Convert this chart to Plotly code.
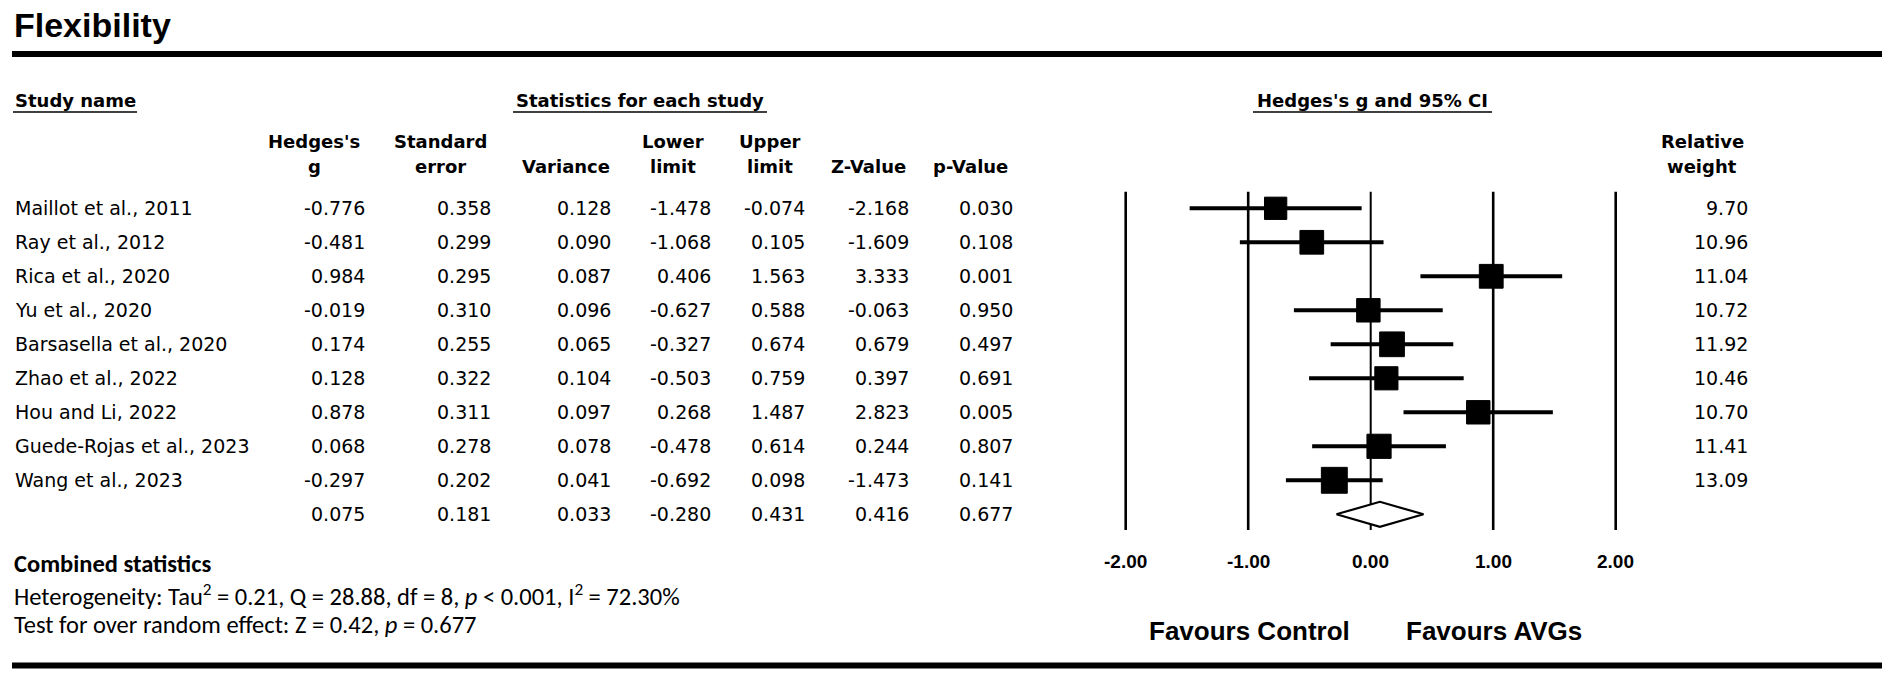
import plotly.graph_objects as go

# ---------------- data ----------------
studies = ["Maillot et al., 2011", "Ray et al., 2012", "Rica et al., 2020", "Yu et al., 2020",
           "Barsasella et al., 2020", "Zhao et al., 2022", "Hou and Li, 2022",
           "Guede-Rojas et al., 2023", "Wang et al., 2023"]
hedges_g = [-0.776, -0.481, 0.984, -0.019, 0.174, 0.128, 0.878, 0.068, -0.297]
std_err = [0.358, 0.299, 0.295, 0.310, 0.255, 0.322, 0.311, 0.278, 0.202]
variance = [0.128, 0.090, 0.087, 0.096, 0.065, 0.104, 0.097, 0.078, 0.041]
lower_limit = [-1.478, -1.068, 0.406, -0.627, -0.327, -0.503, 0.268, -0.478, -0.692]
upper_limit = [-0.074, 0.105, 1.563, 0.588, 0.674, 0.759, 1.487, 0.614, 0.098]
z_value = [-2.168, -1.609, 3.333, -0.063, 0.679, 0.397, 2.823, 0.244, -1.473]
p_value = [0.030, 0.108, 0.001, 0.950, 0.497, 0.691, 0.005, 0.807, 0.141]
rel_weight = [9.70, 10.96, 11.04, 10.72, 11.92, 10.46, 10.70, 11.41, 13.09]

summary = {"g": 0.075, "se": 0.181, "var": 0.033, "lower": -0.280, "upper": 0.431,
           "z": 0.416, "p": 0.677}

axis_ticks = [-2.0, -1.0, 0.0, 1.0, 2.0]

title_text = "Flexibility"
combined_title = "Combined statistics"
heterogeneity_text = ("Heterogeneity: Tau<sup>2</sup> = 0.21, Q = 28.88, df = 8, "
                      "<i>p</i> &lt; 0.001, I<sup>2</sup> = 72.30%")
test_text = "Test for over random effect: Z = 0.42, <i>p</i> = 0.677"
favours_left = "Favours Control"
favours_right = "Favours AVGs"

# ---------------- layout constants ----------------
W, H = 1890, 673
ROW0, ROWSTEP = 208.3, 34.0          # pixel y of first row, row spacing
X0PX, XSCALE = 1370.7, 122.5          # pixel x of effect 0, px per unit

BODY = "DejaVu Sans"
ARIAL = "Liberation Sans, Arial"
CAL = "Carlito, Lato"


def fx(px):
    return px / W


def fy(py):
    return 1 - py / H


annotations = []


def txt(text, x, y, size=19, family=BODY, bold=False, xanchor="right", yanchor="middle"):
    if bold:
        text = "<b>" + text + "</b>"
    annotations.append(dict(text=text, x=fx(x), y=fy(y), xref="paper", yref="paper",
                            xanchor=xanchor, yanchor=yanchor, showarrow=False,
                            font=dict(family=family, size=size, color="black")))


fig = go.Figure()

n = len(studies)
rows = list(range(n))
sum_row = n

# reference vertical lines
v_top = (191.7 - ROW0) / ROWSTEP
v_bot = (530.0 - ROW0) / ROWSTEP
for t in axis_ticks:
    fig.add_trace(go.Scatter(x=[t, t], y=[v_top, v_bot], mode="lines",
                             line=dict(color="black", width=2.0 if t == 0 else 2.6),
                             hoverinfo="skip", showlegend=False))

# CI whiskers + squares
fig.add_trace(go.Scatter(
    x=hedges_g, y=rows, mode="markers",
    marker=dict(symbol="square", color="#000000", opacity=1,
                size=[7.16 * w ** 0.5 for w in rel_weight],
                line=dict(width=1, color="#000000")),
    error_x=dict(type="data", symmetric=False,
                 array=[u - g for u, g in zip(upper_limit, hedges_g)],
                 arrayminus=[g - l for g, l in zip(hedges_g, lower_limit)],
                 color="#000000", thickness=4, width=0),
    showlegend=False, hoverinfo="skip"))

# summary diamond
dh = 12.5 / ROWSTEP
fig.add_trace(go.Scatter(
    x=[summary["lower"], summary["g"], summary["upper"], summary["g"], summary["lower"]],
    y=[sum_row, sum_row - dh, sum_row, sum_row + dh, sum_row],
    mode="lines", fill="toself", fillcolor="white",
    line=dict(color="black", width=2.2), showlegend=False, hoverinfo="skip"))

# ---------------- text ----------------
txt(title_text, 12, 25, size=34, family=ARIAL, bold=True, xanchor="left")

# section headers
txt("Study name", 13, 100, size=18, bold=True, xanchor="left")
txt("Statistics for each study", 640, 100, size=18, bold=True, xanchor="center")
txt("Hedges's g and 95% CI", 1372, 100, size=18, bold=True, xanchor="center")

# column headers
col_right = [367, 493, 612.5, 712.5, 807, 910.7, 1015]
hdr_center = [314, 440, 566, 673, 770, 868, 970]
hdr_lines = [("Hedges's", "g"), ("Standard", "error"), (None, "Variance"), ("Lower", "limit"),
             ("Upper", "limit"), (None, "Z-Value"), (None, "p-Value")]
HDR1, HDR2 = 141.7, 166.7
for (l1, l2), cx in zip(hdr_lines, hdr_center):
    if l1:
        txt(l1, cx, HDR1, size=18, bold=True, xanchor="center")
    txt(l2, cx, HDR2, size=18, bold=True, xanchor="center")
txt("Relative", 1702, HDR1, size=18, bold=True, xanchor="center")
txt("weight", 1702, HDR2, size=18, bold=True, xanchor="center")

# table body
columns = [hedges_g, std_err, variance, lower_limit, upper_limit, z_value, p_value]
for i in rows:
    y = ROW0 + ROWSTEP * i
    txt(studies[i], 13, y, xanchor="left")
    for col, xr in zip(columns, col_right):
        txt(f"{col[i]:.3f}", xr, y)
    txt(f"{rel_weight[i]:.2f}", 1750, y)
ys = ROW0 + ROWSTEP * sum_row
for key, xr in zip(["g", "se", "var", "lower", "upper", "z", "p"], col_right):
    txt(f"{summary[key]:.3f}", xr, ys)

# axis tick labels
for t in axis_ticks:
    txt(f"{t:.2f}", X0PX + XSCALE * t, 561, size=19, family=ARIAL, bold=True, xanchor="center")

txt(favours_left, 1249, 631, size=26, family=ARIAL, bold=True, xanchor="center")
txt(favours_right, 1494, 631, size=26, family=ARIAL, bold=True, xanchor="center")

# combined statistics
txt(combined_title, 12, 564, size=24.5, family=CAL, bold=True, xanchor="left")
txt(heterogeneity_text, 12, 595, size=24.5, family=CAL, xanchor="left")
txt(test_text, 12, 625, size=24.5, family=CAL, xanchor="left")

# ---------------- shapes (rules / underlines) ----------------
shapes = [
    dict(type="line", xref="paper", yref="paper", x0=fx(12), x1=fx(1882), y0=fy(54), y1=fy(54),
         line=dict(color="black", width=6)),
    dict(type="line", xref="paper", yref="paper", x0=fx(12), x1=fx(1882), y0=fy(665.5), y1=fy(665.5),
         line=dict(color="black", width=6)),
]
for x0, x1 in [(13, 137), (513, 767), (1253, 1492)]:
    shapes.append(dict(type="line", xref="paper", yref="paper", x0=fx(x0), x1=fx(x1),
                       y0=fy(112), y1=fy(112), line=dict(color="black", width=1.5)))

fig.update_layout(
    width=W, height=H, margin=dict(l=0, r=0, t=0, b=0),
    paper_bgcolor="white", plot_bgcolor="white",
    xaxis=dict(range=[-X0PX / XSCALE, (W - X0PX) / XSCALE], visible=False, fixedrange=True),
    yaxis=dict(range=[(H - ROW0) / ROWSTEP, -ROW0 / ROWSTEP], visible=False, fixedrange=True),
    annotations=annotations, shapes=shapes, showlegend=False,
)

fig.write_html("out.html", config={"displayModeBar": False},
               post_script="document.body.style.margin='0';")
